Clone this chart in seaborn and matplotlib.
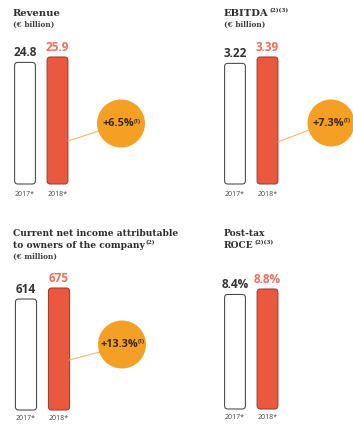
import matplotlib
matplotlib.use("Agg")
import matplotlib.pyplot as plt
import seaborn as sns
import pandas as pd
from matplotlib.patches import FancyBboxPatch, Circle

sns.set_theme(style="white")
plt.rcParams['font.family'] = ['Open Sans', 'DejaVu Sans']

# ---- data ----
years = ["2017*", "2018*"]
revenue = [24.8, 25.9]
ebitda = [3.22, 3.39]
net_income = [614, 675]
roce = [8.4, 8.8]
revenue_labels = ["24.8", "25.9"]
ebitda_labels = ["3.22", "3.39"]
net_income_labels = ["614", "675"]
roce_labels = ["8.4%", "8.8%"]
growth_labels = ["+6.5%", "+7.3%", "+13.3%"]

W, H = 353, 424
WHITE = "#FFFFFF"
RED = "#E9583F"
LRED = "#EF6E58"
DARK = "#333333"
ORANGE = "#F4A024"
CONNECT = "#F2B968"
TXT = "#3A2A14"
SERIF = ["DejaVu Serif"]

fig = plt.figure(figsize=(W / 100, H / 100), dpi=100)
fig.patch.set_facecolor("white")

ov = fig.add_axes([0, 0, 1, 1])
ov.set_xlim(0, W)
ov.set_ylim(H, 0)
ov.axis("off")
ov.set_zorder(5)


def box(x0, x1, ytop, ybot):
    return [x0 / W, 1 - ybot / H, (x1 - x0) / W, (ybot - ytop) / H]


def draw_bars(b, vals, labels, pad):
    ax = fig.add_axes(box(*b))
    df = pd.DataFrame({"year": years, "value": vals})
    sns.barplot(data=df, x="year", y="value", hue="year",
                palette=[WHITE, RED], width=0.64, legend=False, ax=ax,
                saturation=1, linewidth=0)
    ymax = max(vals)
    ax.set_xlim(-0.5, 1.5)
    ax.set_ylim(0, ymax)
    wpx = b[1] - b[0]
    hpx = b[3] - b[2]
    asp = (ymax / hpx) / (2.0 / wpx)
    edges = ["#444444", "#9A3E2C"]
    for cont, lab, col, ec in zip(ax.containers, labels, [DARK, LRED], edges):
        ax.bar_label(cont, labels=[lab], padding=2.5, fontsize=8.5,
                     fontweight="bold", color=col, clip_on=False)
        for p in cont.patches:
            x, y, w, h = p.get_x(), p.get_y(), p.get_width(), p.get_height()
            fc = p.get_facecolor()
            p.set_visible(False)
            ax.add_patch(FancyBboxPatch((x, y), w, h,
                                        boxstyle="round,pad=0,rounding_size=0.1",
                                        mutation_aspect=asp, fc=fc, ec=ec,
                                        lw=0.75, clip_on=False))
    ax.set_xlabel("")
    ax.set_ylabel("")
    ax.set_yticks([])
    for s in ax.spines.values():
        s.set_visible(False)
    ax.tick_params(axis="x", length=0, pad=pad, labelsize=5, labelcolor="#444444")
    ax.patch.set_alpha(0)
    return ax


draw_bars((8.75, 73.75, 57, 184), revenue, revenue_labels, 5)
draw_bars((218.75, 283.75, 57, 184), ebitda, ebitda_labels, 5)
draw_bars((9.5, 75.5, 288, 410), net_income, net_income_labels, 3.5)
draw_bars((218.75, 283.75, 289, 409), roce, roce_labels, 3.5)

# ---- titles ----
title_texts = []
def title(x, y, s, size=7.2, sup=None):
    t = ov.text(x, y, s, fontsize=size, fontweight="bold", family=SERIF,
                color="#2E2E2E", ha="left", va="top")
    title_texts.append((t, sup))
    return t

title(13, 8.5, "Revenue")
ov.text(13, 21, "(€ billion)", fontsize=5.3, fontweight="bold", family=SERIF,
        color="#3A3A3A", ha="left", va="top")
title(224, 8.5, "EBITDA", sup="(2)(3)")
ov.text(224, 21, "(€ billion)", fontsize=5.3, fontweight="bold", family=SERIF,
        color="#3A3A3A", ha="left", va="top")
title(13, 228.5, "Current net income attributable", size=6.6)
title(13, 240.5, "to owners of the company", size=6.6, sup="(2)")
ov.text(13, 252.5, "(€ million)", fontsize=5.3, fontweight="bold", family=SERIF,
        color="#3A3A3A", ha="left", va="top")
title(224, 228.5, "Post-tax", size=6.6)
title(224, 240.5, "ROCE", size=6.6, sup="(2)(3)")

# ---- growth bubbles ----
bubbles = [
    ((121, 123.5), 24, ((68, 141), (99, 131)), growth_labels[0]),
    ((331, 123), 23.5, ((278, 142), (309, 130)), growth_labels[1]),
    ((122, 344.5), 24, ((69, 360), (100, 352)), growth_labels[2]),
]
bubble_texts = []
for (cx, cy), r, ((x0, y0), (x1, y1)), lab in bubbles:
    ov.plot([x0, x1], [y0, y1], color=CONNECT, lw=0.8, zorder=2,
            solid_capstyle="round")
    ov.add_patch(Circle((cx, cy), r, fc=ORANGE, ec="none", zorder=3))
    t = ov.text(cx - 3, cy, lab, fontsize=7.8, fontweight="bold", color=TXT,
                ha="center", va="center", zorder=4)
    bubble_texts.append(t)

fig.canvas.draw()
renderer = fig.canvas.get_renderer()

for t, sup in title_texts:
    if sup:
        bb = t.get_window_extent(renderer)
        ov.text(bb.x1 + 0.8, H - bb.y1 - 0.5, sup, fontsize=4.2,
                fontweight="bold", family=SERIF, color="#2E2E2E",
                ha="left", va="top")

for t in bubble_texts:
    bb = t.get_window_extent(renderer)
    ov.text(bb.x1 + 0.3, H - bb.y1 + 0.5, "(1)", fontsize=4.0,
            fontweight="bold", color=TXT, ha="left", va="top", zorder=4)

fig.savefig("out.png", dpi=100, facecolor="white")
